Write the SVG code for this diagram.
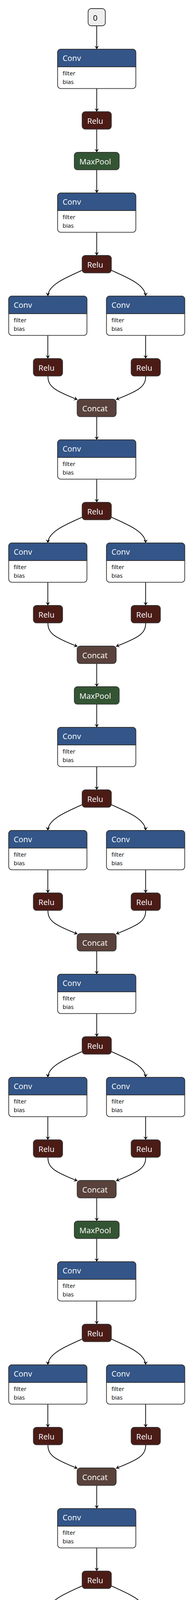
<svg xmlns="http://www.w3.org/2000/svg" width="496" height="6852" viewBox="0 0 496 6852">
<style>
.nb{stroke:#333;stroke-width:1.8}
.cvb{fill:#fff}
.cvh{fill:#335588}
.relu{fill:#4b1b16}
.pool{fill:#335533}
.cat{fill:#59423b}
.drop{fill:#454770}
.blk{fill:#000}
.io{fill:#eee}
.h{font-family:"Open Sans","DejaVu Sans",sans-serif;font-size:20px;fill:#fff}
.d{font-family:"Open Sans","DejaVu Sans",sans-serif;font-size:20px;fill:#000}
.a{font-family:"Open Sans","DejaVu Sans",sans-serif;font-size:15px;fill:#000}
.e{fill:none;stroke:#000;stroke-width:1.8;marker-end:url(#arr)}
</style>
<defs>
<marker id="arr" viewBox="0 0 9 11" refX="9" refY="5.5" markerUnits="userSpaceOnUse" markerWidth="9" markerHeight="11" orient="auto">
<path d="M0,0 L9,5.5 L0,11 L3.6,5.5 z" fill="#000"/>
</marker>
</defs>
<rect width="496" height="6852" fill="#fff"/>

<g id="connectors">
<path class="e" d="M247.3,66 V126"/>
<path class="e" d="M247.3,226.7 V286"/>
<path class="e" d="M247.3,330.7 V390"/>
<path class="e" d="M247.3,434.7 V494"/>
<path class="e" d="M247.3,1802.7 V1862"/>
<path class="e" d="M247.3,3170.7 V3230"/>
<g id="fire2_edges" transform="translate(0,494)">
<path class="e" d="M247.3,100.7 V160"/><path class="e" d="M210,198 C165,218 123,236 122.3,264"/><path class="e" d="M284.6,198 C329.6,218 371.6,236 372.3,264"/><path class="e" d="M122.3,364.7 V424"/><path class="e" d="M372.3,364.7 V424"/><path class="e" d="M122.5,468.7 C122.5,496 140,506 198,529"/><path class="e" d="M372.5,468.7 C372.5,496 355,506 296.5,529"/><path class="e" d="M247.3,572.7 V632"/>
</g>
<g id="fire3_edges" transform="translate(0,1126)">
<path class="e" d="M247.3,100.7 V160"/><path class="e" d="M210,198 C165,218 123,236 122.3,264"/><path class="e" d="M284.6,198 C329.6,218 371.6,236 372.3,264"/><path class="e" d="M122.3,364.7 V424"/><path class="e" d="M372.3,364.7 V424"/><path class="e" d="M122.5,468.7 C122.5,496 140,506 198,529"/><path class="e" d="M372.5,468.7 C372.5,496 355,506 296.5,529"/><path class="e" d="M247.3,572.7 V632"/>
</g>
<g id="fire4_edges" transform="translate(0,1862)">
<path class="e" d="M247.3,100.7 V160"/><path class="e" d="M210,198 C165,218 123,236 122.3,264"/><path class="e" d="M284.6,198 C329.6,218 371.6,236 372.3,264"/><path class="e" d="M122.3,364.7 V424"/><path class="e" d="M372.3,364.7 V424"/><path class="e" d="M122.5,468.7 C122.5,496 140,506 198,529"/><path class="e" d="M372.5,468.7 C372.5,496 355,506 296.5,529"/><path class="e" d="M247.3,572.7 V632"/>
</g>
<g id="fire5_edges" transform="translate(0,2494)">
<path class="e" d="M247.3,100.7 V160"/><path class="e" d="M210,198 C165,218 123,236 122.3,264"/><path class="e" d="M284.6,198 C329.6,218 371.6,236 372.3,264"/><path class="e" d="M122.3,364.7 V424"/><path class="e" d="M372.3,364.7 V424"/><path class="e" d="M122.5,468.7 C122.5,496 140,506 198,529"/><path class="e" d="M372.5,468.7 C372.5,496 355,506 296.5,529"/><path class="e" d="M247.3,572.7 V632"/>
</g>
<g id="fire6_edges" transform="translate(0,3230)">
<path class="e" d="M247.3,100.7 V160"/><path class="e" d="M210,198 C165,218 123,236 122.3,264"/><path class="e" d="M284.6,198 C329.6,218 371.6,236 372.3,264"/><path class="e" d="M122.3,364.7 V424"/><path class="e" d="M372.3,364.7 V424"/><path class="e" d="M122.5,468.7 C122.5,496 140,506 198,529"/><path class="e" d="M372.5,468.7 C372.5,496 355,506 296.5,529"/><path class="e" d="M247.3,572.7 V632"/>
</g>
<g id="fire7_edges" transform="translate(0,3862)">
<path class="e" d="M247.3,100.7 V160"/><path class="e" d="M210,198 C165,218 123,236 122.3,264"/><path class="e" d="M284.6,198 C329.6,218 371.6,236 372.3,264"/><path class="e" d="M122.3,364.7 V424"/><path class="e" d="M372.3,364.7 V424"/><path class="e" d="M122.5,468.7 C122.5,496 140,506 198,529"/><path class="e" d="M372.5,468.7 C372.5,496 355,506 296.5,529"/><path class="e" d="M247.3,572.7 V632"/>
</g>
<g id="fire8_edges" transform="translate(0,4494)">
<path class="e" d="M247.3,100.7 V160"/><path class="e" d="M210,198 C165,218 123,236 122.3,264"/><path class="e" d="M284.6,198 C329.6,218 371.6,236 372.3,264"/><path class="e" d="M122.3,364.7 V424"/><path class="e" d="M372.3,364.7 V424"/><path class="e" d="M122.5,468.7 C122.5,496 140,506 198,529"/><path class="e" d="M372.5,468.7 C372.5,496 355,506 296.5,529"/><path class="e" d="M247.3,572.7 V632"/>
</g>
<g id="fire9_edges" transform="translate(0,5126)">
<path class="e" d="M247.3,100.7 V160"/><path class="e" d="M210,198 C165,218 123,236 122.3,264"/><path class="e" d="M284.6,198 C329.6,218 371.6,236 372.3,264"/><path class="e" d="M122.3,364.7 V424"/><path class="e" d="M372.3,364.7 V424"/><path class="e" d="M122.5,468.7 C122.5,496 140,506 198,529"/><path class="e" d="M372.5,468.7 C372.5,496 355,506 296.5,529"/><path class="e" d="M247.3,572.7 V632"/>
</g>
<path class="e" d="M247.3,5802.7 V5862"/>
<path class="e" d="M247.3,5962.7 V6022"/>
<path class="e" d="M247.3,6066.7 V6126"/>
<path class="e" d="M278.3,6170.7 C305,6190 320,6200 320,6230"/>
<path class="e" d="M216,6170.7 C190,6190 175,6205 175,6250 L175,6610 C175,6645 190,6660 215,6680"/>
<path class="e" d="M320,6274.3 V6334.3"/>
<path class="e" d="M320,6412.3 V6472"/>
<path class="e" d="M320,6516.7 V6576"/>
<path class="e" d="M320,6620.7 C320,6650 305,6660 281,6680"/>
<path class="e" d="M247.3,6725 V6784.3"/>
</g>

<g id="nodes">
<g id="input_0" transform="translate(225.3,22)"><rect class="nb io" width="44" height="44" rx="8"/><text class="d" x="12.4" y="30.7">0</text></g>

<g id="conv1" transform="translate(147.3,126)"><rect class="nb cvb" width="200" height="100.7" rx="8"/><path class="nb cvh" d="M0,45 V8 A8,8 0 0 1 8,0 H192 A8,8 0 0 1 200,8 V45 Z"/><text class="h" x="12.7" y="30">Conv</text><text class="a" x="12.7" y="67">filter</text><text class="a" x="12.7" y="88.5">bias</text></g>
<g id="relu1" transform="translate(210,286)"><rect class="nb relu" width="74.7" height="44.7" rx="8"/><text class="h" x="13" y="30.7">Relu</text></g>
<g id="maxpool1" transform="translate(190,390)"><rect class="nb pool" width="114.7" height="44.7" rx="8"/><text class="h" x="13" y="30.7">MaxPool</text></g>

<g id="fire2">
<g id="fire2_squeeze" transform="translate(147.3,494)"><rect class="nb cvb" width="200" height="100.7" rx="8"/><path class="nb cvh" d="M0,45 V8 A8,8 0 0 1 8,0 H192 A8,8 0 0 1 200,8 V45 Z"/><text class="h" x="12.7" y="30">Conv</text><text class="a" x="12.7" y="67">filter</text><text class="a" x="12.7" y="88.5">bias</text></g>
<g id="fire2_relu" transform="translate(210,654)"><rect class="nb relu" width="74.7" height="44.7" rx="8"/><text class="h" x="13" y="30.7">Relu</text></g>
<g id="fire2_expand1" transform="translate(22.3,758)"><rect class="nb cvb" width="200" height="100.7" rx="8"/><path class="nb cvh" d="M0,45 V8 A8,8 0 0 1 8,0 H192 A8,8 0 0 1 200,8 V45 Z"/><text class="h" x="12.7" y="30">Conv</text><text class="a" x="12.7" y="67">filter</text><text class="a" x="12.7" y="88.5">bias</text></g>
<g id="fire2_expand3" transform="translate(272.3,758)"><rect class="nb cvb" width="200" height="100.7" rx="8"/><path class="nb cvh" d="M0,45 V8 A8,8 0 0 1 8,0 H192 A8,8 0 0 1 200,8 V45 Z"/><text class="h" x="12.7" y="30">Conv</text><text class="a" x="12.7" y="67">filter</text><text class="a" x="12.7" y="88.5">bias</text></g>
<g id="fire2_relu1" transform="translate(85.3,918)"><rect class="nb relu" width="74.7" height="44.7" rx="8"/><text class="h" x="13" y="30.7">Relu</text></g>
<g id="fire2_relu3" transform="translate(335.3,918)"><rect class="nb relu" width="74.7" height="44.7" rx="8"/><text class="h" x="13" y="30.7">Relu</text></g>
<g id="fire2_concat" transform="translate(197.3,1022)"><rect class="nb cat" width="99.7" height="44.7" rx="8"/><text class="h" x="13" y="30.7">Concat</text></g>
</g>

<g id="fire3">
<g id="fire3_squeeze" transform="translate(147.3,1126)"><rect class="nb cvb" width="200" height="100.7" rx="8"/><path class="nb cvh" d="M0,45 V8 A8,8 0 0 1 8,0 H192 A8,8 0 0 1 200,8 V45 Z"/><text class="h" x="12.7" y="30">Conv</text><text class="a" x="12.7" y="67">filter</text><text class="a" x="12.7" y="88.5">bias</text></g>
<g id="fire3_relu" transform="translate(210,1286)"><rect class="nb relu" width="74.7" height="44.7" rx="8"/><text class="h" x="13" y="30.7">Relu</text></g>
<g id="fire3_expand1" transform="translate(22.3,1390)"><rect class="nb cvb" width="200" height="100.7" rx="8"/><path class="nb cvh" d="M0,45 V8 A8,8 0 0 1 8,0 H192 A8,8 0 0 1 200,8 V45 Z"/><text class="h" x="12.7" y="30">Conv</text><text class="a" x="12.7" y="67">filter</text><text class="a" x="12.7" y="88.5">bias</text></g>
<g id="fire3_expand3" transform="translate(272.3,1390)"><rect class="nb cvb" width="200" height="100.7" rx="8"/><path class="nb cvh" d="M0,45 V8 A8,8 0 0 1 8,0 H192 A8,8 0 0 1 200,8 V45 Z"/><text class="h" x="12.7" y="30">Conv</text><text class="a" x="12.7" y="67">filter</text><text class="a" x="12.7" y="88.5">bias</text></g>
<g id="fire3_relu1" transform="translate(85.3,1550)"><rect class="nb relu" width="74.7" height="44.7" rx="8"/><text class="h" x="13" y="30.7">Relu</text></g>
<g id="fire3_relu3" transform="translate(335.3,1550)"><rect class="nb relu" width="74.7" height="44.7" rx="8"/><text class="h" x="13" y="30.7">Relu</text></g>
<g id="fire3_concat" transform="translate(197.3,1654)"><rect class="nb cat" width="99.7" height="44.7" rx="8"/><text class="h" x="13" y="30.7">Concat</text></g>
</g>

<g id="maxpool2" transform="translate(190,1758)"><rect class="nb pool" width="114.7" height="44.7" rx="8"/><text class="h" x="13" y="30.7">MaxPool</text></g>

<g id="fire4">
<g id="fire4_squeeze" transform="translate(147.3,1862)"><rect class="nb cvb" width="200" height="100.7" rx="8"/><path class="nb cvh" d="M0,45 V8 A8,8 0 0 1 8,0 H192 A8,8 0 0 1 200,8 V45 Z"/><text class="h" x="12.7" y="30">Conv</text><text class="a" x="12.7" y="67">filter</text><text class="a" x="12.7" y="88.5">bias</text></g>
<g id="fire4_relu" transform="translate(210,2022)"><rect class="nb relu" width="74.7" height="44.7" rx="8"/><text class="h" x="13" y="30.7">Relu</text></g>
<g id="fire4_expand1" transform="translate(22.3,2126)"><rect class="nb cvb" width="200" height="100.7" rx="8"/><path class="nb cvh" d="M0,45 V8 A8,8 0 0 1 8,0 H192 A8,8 0 0 1 200,8 V45 Z"/><text class="h" x="12.7" y="30">Conv</text><text class="a" x="12.7" y="67">filter</text><text class="a" x="12.7" y="88.5">bias</text></g>
<g id="fire4_expand3" transform="translate(272.3,2126)"><rect class="nb cvb" width="200" height="100.7" rx="8"/><path class="nb cvh" d="M0,45 V8 A8,8 0 0 1 8,0 H192 A8,8 0 0 1 200,8 V45 Z"/><text class="h" x="12.7" y="30">Conv</text><text class="a" x="12.7" y="67">filter</text><text class="a" x="12.7" y="88.5">bias</text></g>
<g id="fire4_relu1" transform="translate(85.3,2286)"><rect class="nb relu" width="74.7" height="44.7" rx="8"/><text class="h" x="13" y="30.7">Relu</text></g>
<g id="fire4_relu3" transform="translate(335.3,2286)"><rect class="nb relu" width="74.7" height="44.7" rx="8"/><text class="h" x="13" y="30.7">Relu</text></g>
<g id="fire4_concat" transform="translate(197.3,2390)"><rect class="nb cat" width="99.7" height="44.7" rx="8"/><text class="h" x="13" y="30.7">Concat</text></g>
</g>

<g id="fire5">
<g id="fire5_squeeze" transform="translate(147.3,2494)"><rect class="nb cvb" width="200" height="100.7" rx="8"/><path class="nb cvh" d="M0,45 V8 A8,8 0 0 1 8,0 H192 A8,8 0 0 1 200,8 V45 Z"/><text class="h" x="12.7" y="30">Conv</text><text class="a" x="12.7" y="67">filter</text><text class="a" x="12.7" y="88.5">bias</text></g>
<g id="fire5_relu" transform="translate(210,2654)"><rect class="nb relu" width="74.7" height="44.7" rx="8"/><text class="h" x="13" y="30.7">Relu</text></g>
<g id="fire5_expand1" transform="translate(22.3,2758)"><rect class="nb cvb" width="200" height="100.7" rx="8"/><path class="nb cvh" d="M0,45 V8 A8,8 0 0 1 8,0 H192 A8,8 0 0 1 200,8 V45 Z"/><text class="h" x="12.7" y="30">Conv</text><text class="a" x="12.7" y="67">filter</text><text class="a" x="12.7" y="88.5">bias</text></g>
<g id="fire5_expand3" transform="translate(272.3,2758)"><rect class="nb cvb" width="200" height="100.7" rx="8"/><path class="nb cvh" d="M0,45 V8 A8,8 0 0 1 8,0 H192 A8,8 0 0 1 200,8 V45 Z"/><text class="h" x="12.7" y="30">Conv</text><text class="a" x="12.7" y="67">filter</text><text class="a" x="12.7" y="88.5">bias</text></g>
<g id="fire5_relu1" transform="translate(85.3,2918)"><rect class="nb relu" width="74.7" height="44.7" rx="8"/><text class="h" x="13" y="30.7">Relu</text></g>
<g id="fire5_relu3" transform="translate(335.3,2918)"><rect class="nb relu" width="74.7" height="44.7" rx="8"/><text class="h" x="13" y="30.7">Relu</text></g>
<g id="fire5_concat" transform="translate(197.3,3022)"><rect class="nb cat" width="99.7" height="44.7" rx="8"/><text class="h" x="13" y="30.7">Concat</text></g>
</g>

<g id="maxpool3" transform="translate(190,3126)"><rect class="nb pool" width="114.7" height="44.7" rx="8"/><text class="h" x="13" y="30.7">MaxPool</text></g>

<g id="fire6">
<g id="fire6_squeeze" transform="translate(147.3,3230)"><rect class="nb cvb" width="200" height="100.7" rx="8"/><path class="nb cvh" d="M0,45 V8 A8,8 0 0 1 8,0 H192 A8,8 0 0 1 200,8 V45 Z"/><text class="h" x="12.7" y="30">Conv</text><text class="a" x="12.7" y="67">filter</text><text class="a" x="12.7" y="88.5">bias</text></g>
<g id="fire6_relu" transform="translate(210,3390)"><rect class="nb relu" width="74.7" height="44.7" rx="8"/><text class="h" x="13" y="30.7">Relu</text></g>
<g id="fire6_expand1" transform="translate(22.3,3494)"><rect class="nb cvb" width="200" height="100.7" rx="8"/><path class="nb cvh" d="M0,45 V8 A8,8 0 0 1 8,0 H192 A8,8 0 0 1 200,8 V45 Z"/><text class="h" x="12.7" y="30">Conv</text><text class="a" x="12.7" y="67">filter</text><text class="a" x="12.7" y="88.5">bias</text></g>
<g id="fire6_expand3" transform="translate(272.3,3494)"><rect class="nb cvb" width="200" height="100.7" rx="8"/><path class="nb cvh" d="M0,45 V8 A8,8 0 0 1 8,0 H192 A8,8 0 0 1 200,8 V45 Z"/><text class="h" x="12.7" y="30">Conv</text><text class="a" x="12.7" y="67">filter</text><text class="a" x="12.7" y="88.5">bias</text></g>
<g id="fire6_relu1" transform="translate(85.3,3654)"><rect class="nb relu" width="74.7" height="44.7" rx="8"/><text class="h" x="13" y="30.7">Relu</text></g>
<g id="fire6_relu3" transform="translate(335.3,3654)"><rect class="nb relu" width="74.7" height="44.7" rx="8"/><text class="h" x="13" y="30.7">Relu</text></g>
<g id="fire6_concat" transform="translate(197.3,3758)"><rect class="nb cat" width="99.7" height="44.7" rx="8"/><text class="h" x="13" y="30.7">Concat</text></g>
</g>

<g id="fire7">
<g id="fire7_squeeze" transform="translate(147.3,3862)"><rect class="nb cvb" width="200" height="100.7" rx="8"/><path class="nb cvh" d="M0,45 V8 A8,8 0 0 1 8,0 H192 A8,8 0 0 1 200,8 V45 Z"/><text class="h" x="12.7" y="30">Conv</text><text class="a" x="12.7" y="67">filter</text><text class="a" x="12.7" y="88.5">bias</text></g>
<g id="fire7_relu" transform="translate(210,4022)"><rect class="nb relu" width="74.7" height="44.7" rx="8"/><text class="h" x="13" y="30.7">Relu</text></g>
<g id="fire7_expand1" transform="translate(22.3,4126)"><rect class="nb cvb" width="200" height="100.7" rx="8"/><path class="nb cvh" d="M0,45 V8 A8,8 0 0 1 8,0 H192 A8,8 0 0 1 200,8 V45 Z"/><text class="h" x="12.7" y="30">Conv</text><text class="a" x="12.7" y="67">filter</text><text class="a" x="12.7" y="88.5">bias</text></g>
<g id="fire7_expand3" transform="translate(272.3,4126)"><rect class="nb cvb" width="200" height="100.7" rx="8"/><path class="nb cvh" d="M0,45 V8 A8,8 0 0 1 8,0 H192 A8,8 0 0 1 200,8 V45 Z"/><text class="h" x="12.7" y="30">Conv</text><text class="a" x="12.7" y="67">filter</text><text class="a" x="12.7" y="88.5">bias</text></g>
<g id="fire7_relu1" transform="translate(85.3,4286)"><rect class="nb relu" width="74.7" height="44.7" rx="8"/><text class="h" x="13" y="30.7">Relu</text></g>
<g id="fire7_relu3" transform="translate(335.3,4286)"><rect class="nb relu" width="74.7" height="44.7" rx="8"/><text class="h" x="13" y="30.7">Relu</text></g>
<g id="fire7_concat" transform="translate(197.3,4390)"><rect class="nb cat" width="99.7" height="44.7" rx="8"/><text class="h" x="13" y="30.7">Concat</text></g>
</g>

<g id="fire8">
<g id="fire8_squeeze" transform="translate(147.3,4494)"><rect class="nb cvb" width="200" height="100.7" rx="8"/><path class="nb cvh" d="M0,45 V8 A8,8 0 0 1 8,0 H192 A8,8 0 0 1 200,8 V45 Z"/><text class="h" x="12.7" y="30">Conv</text><text class="a" x="12.7" y="67">filter</text><text class="a" x="12.7" y="88.5">bias</text></g>
<g id="fire8_relu" transform="translate(210,4654)"><rect class="nb relu" width="74.7" height="44.7" rx="8"/><text class="h" x="13" y="30.7">Relu</text></g>
<g id="fire8_expand1" transform="translate(22.3,4758)"><rect class="nb cvb" width="200" height="100.7" rx="8"/><path class="nb cvh" d="M0,45 V8 A8,8 0 0 1 8,0 H192 A8,8 0 0 1 200,8 V45 Z"/><text class="h" x="12.7" y="30">Conv</text><text class="a" x="12.7" y="67">filter</text><text class="a" x="12.7" y="88.5">bias</text></g>
<g id="fire8_expand3" transform="translate(272.3,4758)"><rect class="nb cvb" width="200" height="100.7" rx="8"/><path class="nb cvh" d="M0,45 V8 A8,8 0 0 1 8,0 H192 A8,8 0 0 1 200,8 V45 Z"/><text class="h" x="12.7" y="30">Conv</text><text class="a" x="12.7" y="67">filter</text><text class="a" x="12.7" y="88.5">bias</text></g>
<g id="fire8_relu1" transform="translate(85.3,4918)"><rect class="nb relu" width="74.7" height="44.7" rx="8"/><text class="h" x="13" y="30.7">Relu</text></g>
<g id="fire8_relu3" transform="translate(335.3,4918)"><rect class="nb relu" width="74.7" height="44.7" rx="8"/><text class="h" x="13" y="30.7">Relu</text></g>
<g id="fire8_concat" transform="translate(197.3,5022)"><rect class="nb cat" width="99.7" height="44.7" rx="8"/><text class="h" x="13" y="30.7">Concat</text></g>
</g>

<g id="fire9">
<g id="fire9_squeeze" transform="translate(147.3,5126)"><rect class="nb cvb" width="200" height="100.7" rx="8"/><path class="nb cvh" d="M0,45 V8 A8,8 0 0 1 8,0 H192 A8,8 0 0 1 200,8 V45 Z"/><text class="h" x="12.7" y="30">Conv</text><text class="a" x="12.7" y="67">filter</text><text class="a" x="12.7" y="88.5">bias</text></g>
<g id="fire9_relu" transform="translate(210,5286)"><rect class="nb relu" width="74.7" height="44.7" rx="8"/><text class="h" x="13" y="30.7">Relu</text></g>
<g id="fire9_expand1" transform="translate(22.3,5390)"><rect class="nb cvb" width="200" height="100.7" rx="8"/><path class="nb cvh" d="M0,45 V8 A8,8 0 0 1 8,0 H192 A8,8 0 0 1 200,8 V45 Z"/><text class="h" x="12.7" y="30">Conv</text><text class="a" x="12.7" y="67">filter</text><text class="a" x="12.7" y="88.5">bias</text></g>
<g id="fire9_expand3" transform="translate(272.3,5390)"><rect class="nb cvb" width="200" height="100.7" rx="8"/><path class="nb cvh" d="M0,45 V8 A8,8 0 0 1 8,0 H192 A8,8 0 0 1 200,8 V45 Z"/><text class="h" x="12.7" y="30">Conv</text><text class="a" x="12.7" y="67">filter</text><text class="a" x="12.7" y="88.5">bias</text></g>
<g id="fire9_relu1" transform="translate(85.3,5550)"><rect class="nb relu" width="74.7" height="44.7" rx="8"/><text class="h" x="13" y="30.7">Relu</text></g>
<g id="fire9_relu3" transform="translate(335.3,5550)"><rect class="nb relu" width="74.7" height="44.7" rx="8"/><text class="h" x="13" y="30.7">Relu</text></g>
<g id="fire9_concat" transform="translate(197.3,5654)"><rect class="nb cat" width="99.7" height="44.7" rx="8"/><text class="h" x="13" y="30.7">Concat</text></g>
</g>

<g id="dropout" transform="translate(190.7,5758)"><rect class="nb drop" width="113.3" height="44.7" rx="8"/><text class="h" x="13.3" y="30.7">Dropout</text></g>
<g id="conv10" transform="translate(147.3,5862)"><rect class="nb cvb" width="200" height="100.7" rx="8"/><path class="nb cvh" d="M0,45 V8 A8,8 0 0 1 8,0 H192 A8,8 0 0 1 200,8 V45 Z"/><text class="h" x="12.7" y="30">Conv</text><text class="a" x="12.7" y="67">filter</text><text class="a" x="12.7" y="88.5">bias</text></g>
<g id="relu10" transform="translate(210,6022)"><rect class="nb relu" width="74.7" height="44.7" rx="8"/><text class="h" x="13" y="30.7">Relu</text></g>
<g id="averagepool" transform="translate(171.7,6126)"><rect class="nb pool" width="151.7" height="44.7" rx="8"/><text class="h" x="12.7" y="30.7">AveragePool</text></g>
<g id="shape" transform="translate(274,6230)"><rect class="nb blk" width="91.7" height="44.3" rx="8"/><text class="h" x="12.7" y="30.7">Shape</text></g>
<g id="gather" transform="translate(219.7,6334.3)"><rect class="nb cvb" width="200" height="78" rx="8"/><path class="nb blk" d="M0,44 V8 A8,8 0 0 1 8,0 H192 A8,8 0 0 1 200,8 V44 Z"/><text class="h" x="12.7" y="30.7">Gather</text><text class="a" x="12.7" y="67.4">(1)</text></g>
<g id="expanddims" transform="translate(243.3,6472)"><rect class="nb blk" width="153" height="44.7" rx="8"/><text class="h" x="13.3" y="30.7">ExpandDims</text></g>
<g id="concat_shape" transform="translate(270,6576)"><rect class="nb cat" width="99.7" height="44.7" rx="8"/><text class="h" x="13.3" y="30.7">Concat</text></g>
<g id="reshape" transform="translate(189.7,6680.3)"><rect class="nb blk" width="115.3" height="44.4" rx="8"/><text class="h" x="13.3" y="30.7">Reshape</text></g>
<g id="output_126" transform="translate(213.7,6784.3)"><rect class="nb io" width="67.3" height="44.4" rx="8"/><text class="d" x="13.3" y="30">126</text></g>
</g>
</svg>
